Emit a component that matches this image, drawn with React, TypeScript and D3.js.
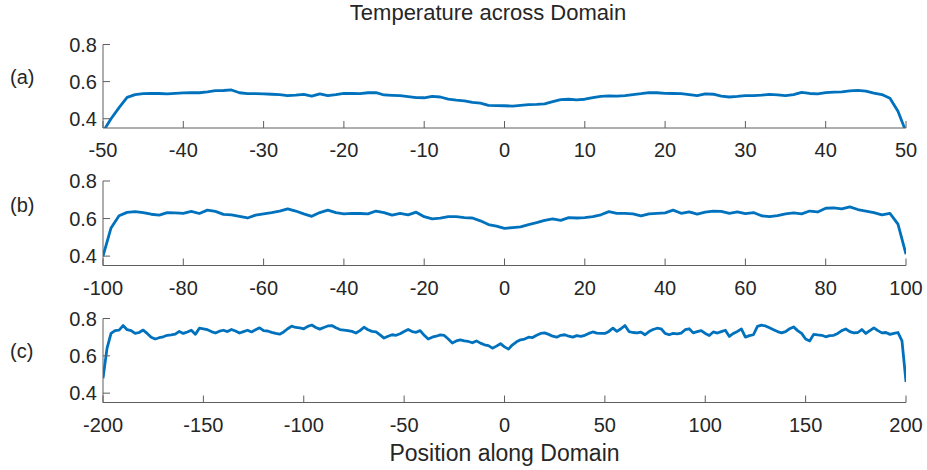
import React from "react";
import * as d3 from "d3";

// ---------- data ----------
const xTicksA = [-50, -40, -30, -20, -10, 0, 10, 20, 30, 40, 50];
const xTicksB = [-100, -80, -60, -40, -20, 0, 20, 40, 60, 80, 100];
const xTicksC = [-200, -150, -100, -50, 0, 50, 100, 150, 200];
const yTicks = [0.4, 0.6, 0.8];
const panelLabels = ["(a)", "(b)", "(c)"];

// (a) positions -50..50 step 1
const tempA = [
  0.33, 0.40, 0.46, 0.515, 0.53, 0.535, 0.536, 0.536, 0.534, 0.537,
  0.539, 0.54, 0.54, 0.545, 0.551, 0.552, 0.555, 0.54, 0.535, 0.535,
  0.534, 0.532, 0.53, 0.524, 0.527, 0.531, 0.522, 0.534, 0.524, 0.53,
  0.537, 0.536, 0.535, 0.54, 0.541, 0.528, 0.526, 0.524, 0.519, 0.514,
  0.513, 0.521, 0.517, 0.506, 0.5, 0.496, 0.488, 0.484, 0.472, 0.471,
  0.47, 0.468, 0.472, 0.476, 0.477, 0.48, 0.492, 0.503, 0.505, 0.502,
  0.505, 0.514, 0.52, 0.523, 0.522, 0.525, 0.53, 0.535, 0.541, 0.54,
  0.537, 0.536, 0.535, 0.53, 0.524, 0.534, 0.532, 0.522, 0.517, 0.52,
  0.524, 0.524, 0.527, 0.531, 0.528, 0.524, 0.53, 0.542, 0.536, 0.534,
  0.541, 0.543, 0.545, 0.55, 0.553, 0.549, 0.538, 0.53, 0.51, 0.44,
  0.33,
];

// (b) positions -100..100 step 2
const tempB = [
  0.40, 0.55, 0.615, 0.633, 0.637, 0.632, 0.623, 0.618, 0.632, 0.63,
  0.628, 0.638, 0.627, 0.645, 0.638, 0.622, 0.62, 0.612, 0.603, 0.618,
  0.625, 0.632, 0.64, 0.652, 0.64, 0.625, 0.612, 0.632, 0.645, 0.632,
  0.625, 0.628, 0.627, 0.625, 0.64, 0.632, 0.618, 0.628, 0.62, 0.634,
  0.61, 0.598, 0.602, 0.61, 0.61, 0.605, 0.603, 0.588, 0.568, 0.56,
  0.548, 0.552, 0.556, 0.568, 0.578, 0.59, 0.598, 0.59, 0.605, 0.603,
  0.605, 0.61, 0.62, 0.637, 0.628, 0.628, 0.625, 0.614, 0.625, 0.628,
  0.63, 0.645, 0.628, 0.636, 0.624, 0.634, 0.64, 0.638, 0.628, 0.636,
  0.626, 0.632, 0.615, 0.61, 0.616, 0.625, 0.63, 0.625, 0.64, 0.635,
  0.655, 0.657, 0.652, 0.662, 0.648, 0.64, 0.632, 0.62, 0.628, 0.57,
  0.41,
];

// (c) positions -200..200 step 2
const tempC = [
  0.48, 0.64, 0.72, 0.735, 0.738, 0.762, 0.74, 0.735, 0.72, 0.725,
  0.738, 0.72, 0.70, 0.69, 0.697, 0.702, 0.71, 0.712, 0.716, 0.731,
  0.72, 0.728, 0.737, 0.715, 0.748, 0.745, 0.74, 0.73, 0.722, 0.732,
  0.737, 0.73, 0.741, 0.733, 0.722, 0.73, 0.737, 0.728, 0.74, 0.75,
  0.735, 0.733, 0.726, 0.72, 0.716, 0.728, 0.745, 0.759, 0.752, 0.75,
  0.745, 0.758, 0.765, 0.752, 0.743, 0.752, 0.76, 0.762, 0.75, 0.741,
  0.738, 0.735, 0.731, 0.722, 0.735, 0.753, 0.74, 0.731, 0.728, 0.712,
  0.695, 0.705, 0.713, 0.71, 0.718, 0.73, 0.741, 0.73, 0.726, 0.735,
  0.71, 0.69, 0.70, 0.705, 0.712, 0.709, 0.69, 0.669, 0.68, 0.686,
  0.68, 0.677, 0.67, 0.68, 0.668, 0.659, 0.655, 0.641, 0.652, 0.665,
  0.648, 0.636, 0.659, 0.675, 0.686, 0.69, 0.70, 0.698, 0.71, 0.72,
  0.723, 0.715, 0.705, 0.70, 0.71, 0.713, 0.705, 0.70, 0.708, 0.704,
  0.71, 0.72, 0.728, 0.722, 0.72, 0.72, 0.731, 0.748, 0.731, 0.745,
  0.762, 0.73, 0.725, 0.723, 0.727, 0.713, 0.73, 0.741, 0.748, 0.745,
  0.72, 0.713, 0.72, 0.718, 0.722, 0.74, 0.745, 0.723, 0.73, 0.735,
  0.72, 0.709, 0.728, 0.722, 0.73, 0.737, 0.704, 0.72, 0.731, 0.744,
  0.70, 0.708, 0.713, 0.758, 0.764, 0.76, 0.75, 0.74, 0.73, 0.723,
  0.73, 0.745, 0.755, 0.735, 0.72, 0.69, 0.68, 0.715, 0.712, 0.71,
  0.702, 0.708, 0.71, 0.72, 0.735, 0.744, 0.73, 0.723, 0.725, 0.741,
  0.72, 0.735, 0.75, 0.735, 0.723, 0.725, 0.715, 0.72, 0.725, 0.68,
  0.46,
];

const posA = d3.range(-50, 51, 1);
const posB = d3.range(-100, 101, 2);
const posC = d3.range(-200, 201, 2);

const title = "Temperature across Domain";
const xLabel = "Position along Domain";

// ---------- layout ----------
const W = 927;
const H = 470;
const X0 = 103;
const X1 = 906;
const FONT = "'Liberation Sans', Arial, Helvetica, sans-serif";
const TEXT = "#262626";
const AXIS = "#5e5e5e";
const LINE = "#0072BD";

const panels = [
  { pos: posA, vals: tempA, ticks: xTicksA, top: 44.5, bottom: 128, labelY: 77 },
  { pos: posB, vals: tempB, ticks: xTicksB, top: 181, bottom: 265.5, labelY: 205 },
  { pos: posC, vals: tempC, ticks: xTicksC, top: 318.5, bottom: 402.5, labelY: 351 },
];

function Panel({ p, i }: { p: any; i: number }) {
  const ext = [p.ticks[0], p.ticks[p.ticks.length - 1]];
  const x = d3.scaleLinear().domain(ext).range([X0, X1]);
  const y = d3.scaleLinear().domain([0.35, 0.8]).range([p.bottom, p.top]);
  const data = p.pos.map((v: number, k: number) => [v, p.vals[k]] as [number, number]);
  const line = d3
    .line<[number, number]>()
    .x((d) => x(d[0]))
    .y((d) => y(d[1]));
  const clipId = `clip${i}`;
  const tl = 7;
  return (
    <g>
      <defs>
        <clipPath id={clipId}>
          <rect x={X0} y={p.top} width={X1 - X0} height={p.bottom - p.top} />
        </clipPath>
      </defs>
      <path
        d={line(data) || ""}
        fill="none"
        stroke={LINE}
        strokeWidth={2.8}
        strokeLinejoin="round"
        clipPath={`url(#${clipId})`}
      />
      {/* axes */}
      <line x1={X0} x2={X1} y1={p.bottom} y2={p.bottom} stroke={AXIS} strokeWidth={1} />
      <line x1={X0} x2={X0} y1={p.top} y2={p.bottom} stroke={AXIS} strokeWidth={1} />
      {p.ticks.map((t: number) => (
        <g key={"x" + t}>
          <line x1={x(t)} x2={x(t)} y1={p.bottom} y2={p.bottom - tl} stroke={AXIS} strokeWidth={1} />
          <text
            x={x(t)}
            y={p.bottom + 29}
            textAnchor="middle"
            fontSize={20}
            fill={TEXT}
            fontFamily={FONT}
          >
            {t}
          </text>
        </g>
      ))}
      {yTicks.map((t) => (
        <g key={"y" + t}>
          <line x1={X0} x2={X0 + tl} y1={y(t)} y2={y(t)} stroke={AXIS} strokeWidth={1} />
          <text
            x={X0 - 6}
            y={y(t)}
            dy="0.36em"
            textAnchor="end"
            fontSize={20}
            fill={TEXT}
            fontFamily={FONT}
          >
            {t.toFixed(1)}
          </text>
        </g>
      ))}
      <text
        x={10}
        y={p.labelY}
        dy="0.36em"
        fontSize={20}
        fill={TEXT}
        fontFamily={FONT}
      >
        {panelLabels[i]}
      </text>
    </g>
  );
}

export default function App() {
  return (
    <svg
      width={W}
      height={H}
      style={{ position: "absolute", left: 0, top: 0, background: "#ffffff" }}
    >
      <rect x={0} y={0} width={W} height={H} fill="#ffffff" />
      <text x={488} y={20} textAnchor="middle" fontSize={22} fill={TEXT} fontFamily={FONT}>
        {title}
      </text>
      {panels.map((p, i) => (
        <Panel key={i} p={p} i={i} />
      ))}
      <text
        x={(X0 + X1) / 2}
        y={461}
        textAnchor="middle"
        fontSize={23}
        fill={TEXT}
        fontFamily={FONT}
      >
        {xLabel}
      </text>
    </svg>
  );
}
